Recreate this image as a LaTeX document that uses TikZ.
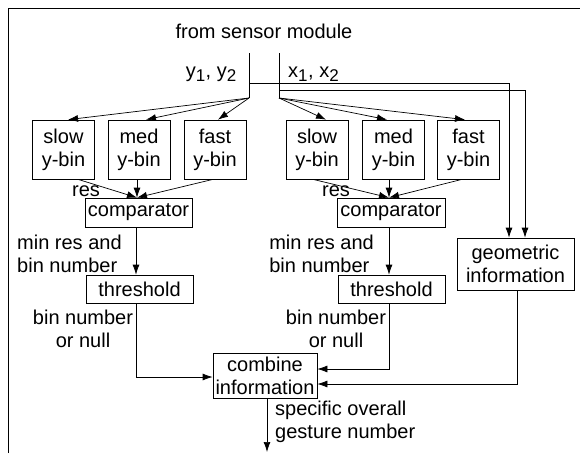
\documentclass[tikz,border=0pt]{standalone}
\usepackage{fontspec}
\setmainfont{Liberation Sans}
\usetikzlibrary{arrows.meta}
\begin{document}
\begin{tikzpicture}[x=1pt,y=-1pt,
  every node/.style={font=\fontsize{20}{23}\selectfont, inner sep=0pt},
  box/.style={draw, line width=0.7pt, align=center},
  lbl/.style={align=center},
  ln/.style={line width=0.7pt},
  arr/.style={ln, -{Latex[length=10pt,width=7pt]}}]
\useasboundingbox (0,0) rectangle (580,453);
% frame
\coordinate (fb) at (8,453);
\coordinate (fc) at (8,8);
\coordinate (fr) at (580,8);
\draw[ln] (fb) -- (fc) -- (fr);

\node[lbl] (src) at (264,31) {from sensor module};
\coordinate (yt) at (249,53);
\coordinate (yj) at (249,83);
\coordinate (yb) at (249,98);
\coordinate (xt) at (279,53);
\coordinate (xj) at (279,90);
\coordinate (xb) at (279,98);
\draw[ln] (yt) -- (yb);
\draw[ln] (xt) -- (xb);
\node[anchor=base east] (ylab) at (237,77) {y\textsubscript{\fontsize{17}{17}\selectfont 1}, y\textsubscript{\fontsize{17}{17}\selectfont 2}};
\node[anchor=base west] (xlab) at (288,77) {x\textsubscript{\fontsize{17}{17}\selectfont 1}, x\textsubscript{\fontsize{17}{17}\selectfont 2}};

% y-bins
\node[box, minimum width=62, minimum height=59] (slL) at (63.5,149.5) {slow\\y-bin};
\node[box, minimum width=62, minimum height=59] (meL) at (139,149.5) {med\\y-bin};
\node[box, minimum width=62, minimum height=59] (faL) at (215,149.5) {fast\\y-bin};
\node[box, minimum width=62, minimum height=59] (slR) at (317,149.5) {slow\\y-bin};
\node[box, minimum width=62, minimum height=59] (meR) at (393.5,149.5) {med\\y-bin};
\node[box, minimum width=62, minimum height=59] (faR) at (468.5,149.5) {fast\\y-bin};

\draw[arr] (yb) -- ([xshift=4.5pt]slL.north);
\draw[arr] (yb) -- ([xshift=7pt]meL.north);
\draw[arr] (yb) -- ([xshift=3pt]faL.north);
\draw[arr] (xb) -- ([xshift=9pt]slR.north);
\draw[arr] (xb) -- ([xshift=-6.5pt]meR.north);
\draw[arr] (xb) -- ([xshift=-3.5pt]faR.north);

% comparators
\node[box, minimum width=107, minimum height=29] (cmpL) at (138.5,212.5) {comparator};
\node[box, minimum width=108, minimum height=29] (cmpR) at (391,212.5) {comparator};
\coordinate (cL) at ([xshift=-1.5pt]cmpL.north);
\coordinate (cR) at ([xshift=-2pt]cmpR.north);
\draw[arr] ([xshift=14.5pt]slL.south) -- (cL);
\draw[arr] (meL.south -| cL) -- (cL);
\draw[arr] ([xshift=-2pt]faL.south) -- (cL);
\draw[arr] ([xshift=-4pt]slR.south) -- (cR);
\draw[arr] (meR.south -| cR) -- (cR);
\draw[arr] ([xshift=-6.5pt]faR.south) -- (cR);
\node[lbl] (resL) at (86,191) {res};
\node[lbl] (resR) at (336,191) {res};

% thresholds
\node[box, minimum width=107, minimum height=28] (thrL) at (139.5,289) {threshold};
\node[box, minimum width=107, minimum height=28] (thrR) at (391.5,289) {threshold};
\draw[arr] ([xshift=-2.5pt]cmpL.south) -- ([xshift=-3.5pt]thrL.north);
\draw[arr] ([xshift=-2pt]cmpR.south) -- ([xshift=-2.5pt]thrR.north);
\node[align=left, anchor=west] (mrL) at (17,253.5) {min res and\\bin number};
\node[align=left, anchor=east] (mrR) at (374,253.5) {min res and\\bin number};

% geometric
\node[box, minimum width=117, minimum height=52] (geo) at (515.5,264) {geometric\\information};
\draw[arr] (yj) -| ([xshift=-6.5pt]geo.north);
\draw[arr] (xj) -| ([xshift=9.5pt]geo.north);

% combine
\node[box, minimum width=104, minimum height=45] (comb) at (265,375.5) {combine\\information};
\draw[arr] ([xshift=-3.5pt]thrL.south) |- ([yshift=-1.5pt]comb.west);
\draw[arr] ([xshift=-2.5pt]thrR.south) |- ([yshift=6.5pt]comb.east);
\draw[arr] ([xshift=1.5pt]geo.south) |- ([yshift=-8.5pt]comb.east);
\node[lbl] (bnL) at (83,329) {bin number\\or null};
\node[lbl] (bnR) at (336,329) {bin number\\or null};

\coordinate (out) at (267,452);
\draw[arr] ([xshift=2pt]comb.south) -- (out);
\node[align=left, anchor=west] (spec) at (275,421.5) {specific overall\\gesture number};
\end{tikzpicture}
\end{document}
